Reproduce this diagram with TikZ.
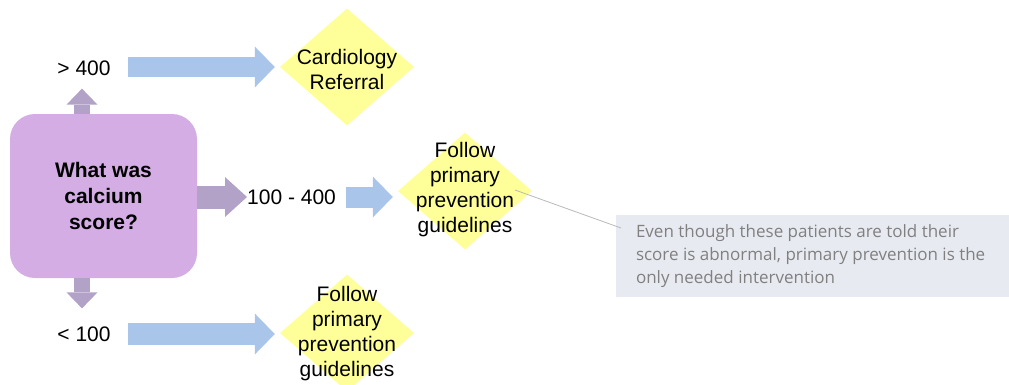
\documentclass[tikz,border=0pt]{standalone}
\usepackage{fontspec}
\setmainfont{Liberation Sans}
\newfontfamily\notefont{Open Sans}
\usetikzlibrary{arrows.meta,positioning,shapes.geometric}

\definecolor{qpurple}{HTML}{D4ADE4}
\definecolor{apurple}{HTML}{B3A2C7}
\definecolor{ablue}{HTML}{AAC5EA}
\definecolor{dyellow}{HTML}{FFFF99}
\definecolor{notebg}{HTML}{E8EAF2}
\definecolor{notegray}{HTML}{808080}

\begin{document}
\begin{tikzpicture}[
x=1pt,y=-1pt,
question/.style={draw=none,fill=qpurple,rounded corners=25pt,minimum width=187pt,minimum height=164pt,align=center,font=\fontsize{21}{26}\selectfont\bfseries},
label/.style={inner sep=0pt,font=\fontsize{21}{25}\selectfont},
dia/.style={diamond,fill=dyellow,inner sep=0pt,minimum width=134pt,minimum height=117pt},
dtext/.style={align=center,inner sep=0pt,font=\fontsize{21}{25}\selectfont},
notebox/.style={fill=notebg,minimum width=393pt,minimum height=82pt,inner sep=0pt},
notetext/.style={align=left,inner sep=0pt,text=notegray,font=\notefont\fontsize{17}{23}\selectfont},
parrow/.style={apurple,line width=#1,-{Triangle[length=22pt,width=40pt,line width=0pt]}},
pvarrow/.style={apurple,line width=16pt,-{Triangle[length=16pt,width=31pt,line width=0pt]}},
barrow/.style={ablue,line width=21pt,-{Triangle[length=20pt,width=41pt,line width=0pt]}},
leader/.style={draw=gray!55,line width=0.8pt}
]
\useasboundingbox (0,0) rectangle (1009,384);

% question box and the score bands
\node[question] (q) at (103.5,196) {What was\\calcium\\score?};
\node[label] (high) at (84,68) {> 400};
\node[label,anchor=west] (mid) at (247,197) {100 - 400};
\node[label] (low) at (84,334) {< 100};

% outcomes
\node[dia] (d1) at (347,67) {};
\node[dtext] (t1) at (347,69) {Cardiology\\Referral};
\node[dia] (d2) at (465,191) {};
\node[dtext] (t2) at (465,190) {Follow\\primary\\prevention\\guidelines};
\node[dia] (d3) at (347,333) {};
\node[dtext] (t3) at (347,334) {Follow\\primary\\prevention\\guidelines};

% comment
\node[notebox] (note) at (812.5,256) {};
\node[notetext,anchor=west] (nt) at ([xshift=20pt]note.west) {Even though these patients are told their\\score is abnormal, primary prevention is the\\only needed intervention};
\coordinate (lstart) at (515,190);
\coordinate (lend) at (621,228);
\draw[leader] (lstart) -- (lend);

% arrows out of the question
\draw[pvarrow] (q.north -| 82,0) -- ([yshift=-13pt]high.south -| 82,0) ;
\draw[pvarrow] (q.south -| 82,0) -- ([yshift=18pt]low.north -| 82,0);
\draw[parrow=23pt] (q.east |- mid) -- (mid.west);

% arrows to the outcomes
\draw[barrow,line width=20pt] ([xshift=17pt]high.east |- d1) -- ([xshift=-5pt]d1.west);
\draw[barrow] ([xshift=10pt]mid.east) -- ([xshift=-5pt]d2.west |- mid);
\draw[barrow,line width=22pt] ([xshift=17pt]low.east) -- ([xshift=-5pt]d3.west |- low);
\end{tikzpicture}
\end{document}
